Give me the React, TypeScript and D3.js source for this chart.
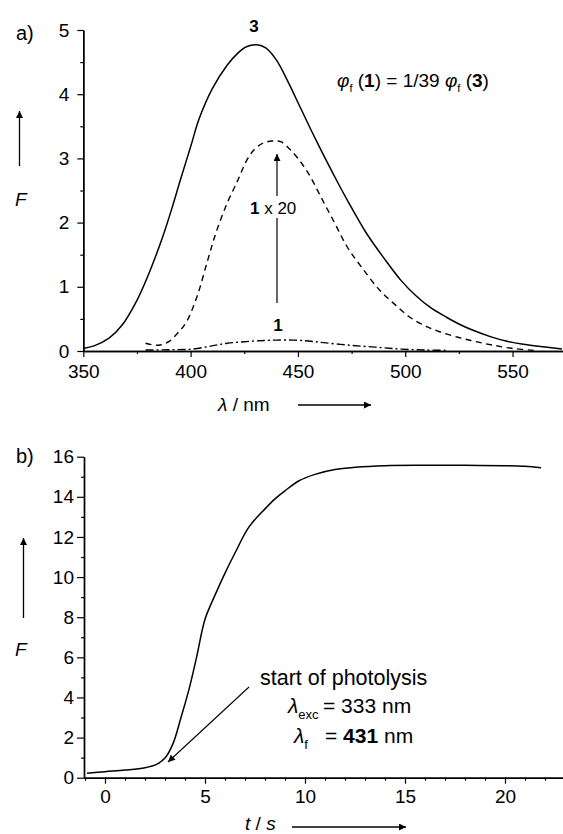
import React, { useEffect, useRef } from "react";
import * as d3 from "d3";

// Panel a: fluorescence spectra
const lambda3 = [350, 355, 362, 368, 375, 380, 387, 392, 395, 400, 404, 410, 417, 422, 426, 431, 435, 440, 445, 451, 456, 460, 468, 473, 482, 490, 498, 505, 512, 519, 525, 531, 540, 547, 555, 563, 573];
const F3 = [0.04, 0.08, 0.2, 0.4, 0.79, 1.16, 1.78, 2.3, 2.64, 3.18, 3.62, 4.08, 4.45, 4.64, 4.74, 4.77, 4.72, 4.53, 4.22, 3.8, 3.45, 3.18, 2.66, 2.35, 1.83, 1.45, 1.1, 0.86, 0.67, 0.53, 0.42, 0.33, 0.22, 0.155, 0.105, 0.07, 0.03];
const lambda20 = [379, 385, 390, 394, 398, 403, 408, 412, 417, 422, 426, 430, 434, 438, 442, 446, 450, 455, 461, 467, 473, 480, 488, 495, 502, 510, 516, 525, 533, 541, 550, 560];
const F20 = [0.12, 0.09, 0.15, 0.28, 0.45, 0.85, 1.42, 1.86, 2.3, 2.66, 2.96, 3.15, 3.24, 3.27, 3.26, 3.15, 3.0, 2.76, 2.38, 2.0, 1.62, 1.29, 0.95, 0.73, 0.53, 0.38, 0.3, 0.21, 0.145, 0.09, 0.04, 0.01];
const lambda1 = [379, 390, 401, 410, 417, 425, 432, 440, 448, 455, 462, 474, 486, 498, 510, 520];
const F1 = [0.015, 0.02, 0.03, 0.08, 0.12, 0.145, 0.16, 0.17, 0.17, 0.155, 0.13, 0.09, 0.06, 0.03, 0.015, 0.01];
const aTicksX = [350, 400, 450, 500, 550];
const aTicksY = [0, 1, 2, 3, 4, 5];

// Panel b: kinetics
const tB = [-0.9, 0, 1, 2, 2.6, 3.0, 3.4, 3.8, 4.2, 4.6, 5.0, 5.5, 6.0, 6.5, 7.2, 8.0, 8.5, 9.0, 9.7, 10.5, 11.5, 12.5, 14, 16, 18, 20, 21, 21.8];
const FB = [0.22, 0.3, 0.38, 0.5, 0.68, 0.98, 1.7, 3.0, 4.4, 6.1, 7.9, 9.1, 10.2, 11.2, 12.5, 13.4, 13.9, 14.3, 14.8, 15.12, 15.36, 15.47, 15.55, 15.57, 15.57, 15.55, 15.52, 15.45];
const bTicksX = [0, 5, 10, 15, 20];
const bTicksY = [0, 2, 4, 6, 8, 10, 12, 14, 16];

const FONT = "'Liberation Sans', Arial, Helvetica, sans-serif";

export default function App() {
  const ref = useRef<SVGSVGElement>(null);
  useEffect(() => {
    const svg = d3.select(ref.current);
    svg.selectAll("*").remove();
    const defs = svg.append("defs");
    defs.append("marker").attr("id", "ah").attr("viewBox", "0 0 10 10").attr("refX", 10).attr("refY", 5)
      .attr("markerWidth", 9).attr("markerHeight", 7).attr("markerUnits", "userSpaceOnUse").attr("orient", "auto")
      .append("path").attr("d", "M0,0 L10,5 L0,10 Z").attr("fill", "#000");

    const xA = d3.scaleLinear().domain([350, 573.5]).range([83.3, 563]);
    const yA = d3.scaleLinear().domain([0, 5]).range([351, 30]);
    const xB = d3.scaleLinear().domain([-1.05, 22.9]).range([84, 563]);
    const yB = d3.scaleLinear().domain([0, 16]).range([777.7, 456.7]);

    const styleAxis = (g: any) => {
      g.selectAll("path").attr("stroke", "#000").attr("stroke-width", 1.4);
      g.selectAll("line").attr("stroke", "#000").attr("stroke-width", 1.2);
      g.selectAll("text").attr("font-family", FONT).attr("font-size", 19).attr("fill", "#000");
    };

    // Panel a axes
    const gaxMinor = svg.append("g").attr("transform", `translate(0,${yA(0)})`)
      .call(d3.axisBottom(xA).tickValues(d3.range(375, 574, 50)).tickSize(3).tickSizeOuter(0).tickFormat(() => ""));
    styleAxis(gaxMinor);
    const gax = svg.append("g").attr("transform", `translate(0,${yA(0)})`)
      .call(d3.axisBottom(xA).tickValues(aTicksX).tickSize(6).tickPadding(8).tickSizeOuter(0).tickFormat(d3.format("d")));
    styleAxis(gax);
    const gayMinor = svg.append("g").attr("transform", `translate(${xA(350)},0)`)
      .call(d3.axisLeft(yA).tickValues(d3.range(0.5, 5, 1)).tickSize(3).tickSizeOuter(0).tickFormat(() => ""));
    styleAxis(gayMinor);
    const gay = svg.append("g").attr("transform", `translate(${xA(350)},0)`)
      .call(d3.axisLeft(yA).tickValues(aTicksY).tickSize(6).tickPadding(8).tickSizeOuter(0).tickFormat(d3.format("d")));
    styleAxis(gay);

    // Panel b axes
    const gbxMinor = svg.append("g").attr("transform", `translate(0,${yB(0)})`)
      .call(d3.axisBottom(xB).tickValues(d3.range(-1, 23, 1).filter((v) => v % 5 !== 0)).tickSize(3).tickSizeOuter(0).tickFormat(() => ""));
    styleAxis(gbxMinor);
    const gbx = svg.append("g").attr("transform", `translate(0,${yB(0)})`)
      .call(d3.axisBottom(xB).tickValues(bTicksX).tickSize(6).tickPadding(6).tickSizeOuter(0).tickFormat(d3.format("d")));
    styleAxis(gbx);
    const gbyMinor = svg.append("g").attr("transform", `translate(${xB(-1.05)},0)`)
      .call(d3.axisLeft(yB).tickValues(d3.range(1, 16, 2)).tickSize(3).tickSizeOuter(0).tickFormat(() => ""));
    styleAxis(gbyMinor);
    const gby = svg.append("g").attr("transform", `translate(${xB(-1.05)},0)`)
      .call(d3.axisLeft(yB).tickValues(bTicksY).tickSize(7).tickPadding(3).tickSizeOuter(0).tickFormat(d3.format("d")));
    styleAxis(gby);

    // Curves panel a
    const lineA = (xs: number[], ys: number[]) =>
      d3.line<number>().x((_, i) => xA(xs[i])).y((_, i) => yA(ys[i])).curve(d3.curveCatmullRom.alpha(0.5))(ys);
    svg.append("path").attr("d", lineA(lambda3, F3)).attr("fill", "none").attr("stroke", "#000").attr("stroke-width", 1.5);
    svg.append("path").attr("d", lineA(lambda20, F20)).attr("fill", "none").attr("stroke", "#000").attr("stroke-width", 1.4)
      .attr("stroke-dasharray", "6,4.5");
    svg.append("path").attr("d", lineA(lambda1, F1)).attr("fill", "none").attr("stroke", "#000").attr("stroke-width", 1.4)
      .attr("stroke-dasharray", "8,3,2,3");

    // Curve panel b
    const lineB = d3.line<number>().x((_, i) => xB(tB[i])).y((_, i) => yB(FB[i])).curve(d3.curveCatmullRom.alpha(0.5));
    svg.append("path").attr("d", lineB(FB)).attr("fill", "none").attr("stroke", "#000").attr("stroke-width", 1.5);

    const txt = (x: number, y: number, s: string, size = 19, opts: any = {}) => {
      const t = svg.append("text").attr("x", x).attr("y", y).attr("font-family", FONT).attr("font-size", size).attr("fill", "#000").text(s);
      if (opts.anchor) t.attr("text-anchor", opts.anchor);
      if (opts.italic) t.attr("font-style", "italic");
      if (opts.bold) t.attr("font-weight", "bold");
      return t;
    };
    const arrow = (x1: number, y1: number, x2: number, y2: number, w = 1.3) =>
      svg.append("line").attr("x1", x1).attr("y1", y1).attr("x2", x2).attr("y2", y2)
        .attr("stroke", "#000").attr("stroke-width", w).attr("marker-end", "url(#ah)");

    // Panel a labels
    txt(16, 40, "a)", 20);
    arrow(19.5, 166, 19.5, 111);
    txt(15, 206, "F", 19, { italic: true });
    const ln = svg.append("text").attr("x", 218).attr("y", 411).attr("font-family", FONT).attr("font-size", 19).attr("fill", "#000");
    ln.append("tspan").attr("font-style", "italic").text("λ");
    ln.append("tspan").text(" / nm");
    arrow(298, 405, 371, 405);
    txt(254, 32, "3", 17, { anchor: "middle", bold: true });
    // φf(1) = 1/39 φf(3)
    const phi = svg.append("text").attr("x", 337).attr("y", 87).attr("font-family", FONT).attr("font-size", 19).attr("fill", "#000");
    phi.append("tspan").attr("font-style", "italic").text("φ");
    phi.append("tspan").attr("font-size", 11).attr("dy", 5).text("f");
    phi.append("tspan").attr("dy", -5).text(" (");
    phi.append("tspan").attr("font-weight", "bold").text("1");
    phi.append("tspan").text(") = 1/39 ");
    phi.append("tspan").attr("font-style", "italic").text("φ");
    phi.append("tspan").attr("font-size", 11).attr("dy", 5).text("f");
    phi.append("tspan").attr("dy", -5).text(" (");
    phi.append("tspan").attr("font-weight", "bold").text("3");
    phi.append("tspan").text(")");
    // 1 x 20
    const t20 = svg.append("text").attr("x", 250).attr("y", 214).attr("font-family", FONT).attr("font-size", 17).attr("fill", "#000");
    t20.append("tspan").attr("font-weight", "bold").text("1");
    t20.append("tspan").text(" x 20");
    svg.append("line").attr("x1", 277).attr("y1", 303).attr("x2", 277).attr("y2", 218).attr("stroke", "#000").attr("stroke-width", 1.2);
    arrow(277, 196, 277, 154, 1.2);
    txt(278, 331, "1", 17, { anchor: "middle", bold: true });

    // Panel b labels
    txt(16, 463, "b)", 20);
    arrow(23.5, 618, 23.5, 538);
    txt(15, 656, "F", 19, { italic: true });
    const ts = svg.append("text").attr("x", 245).attr("y", 830).attr("font-family", FONT).attr("font-size", 19).attr("fill", "#000");
    ts.append("tspan").attr("font-style", "italic").text("t");
    ts.append("tspan").text(" / ");
    ts.append("tspan").attr("font-style", "italic").text("s");
    arrow(292, 827, 406, 827);
    txt(260, 685, "start of photolysis", 21.5);
    arrow(249, 687, 168, 762, 1.1);
    const l1 = svg.append("text").attr("x", 288).attr("y", 713).attr("font-family", FONT).attr("font-size", 21).attr("fill", "#000");
    l1.append("tspan").attr("font-style", "italic").text("λ");
    l1.append("tspan").attr("font-size", 13).attr("dy", 6).text("exc");
    l1.append("tspan").attr("dy", -6).attr("x", 323).text("= 333 nm");
    const l2 = svg.append("text").attr("x", 294).attr("y", 743).attr("font-family", FONT).attr("font-size", 21).attr("fill", "#000");
    l2.append("tspan").attr("font-style", "italic").text("λ");
    l2.append("tspan").attr("font-size", 13).attr("dy", 6).text("f");
    l2.append("tspan").attr("dy", -6).attr("x", 325).text("= ");
    l2.append("tspan").attr("font-weight", "bold").text("431");
    l2.append("tspan").text(" nm");
  }, []);

  return (
    <svg ref={ref} width={563} height={834} style={{ position: "absolute", left: 0, top: 0, background: "#fff" }} />
  );
}
